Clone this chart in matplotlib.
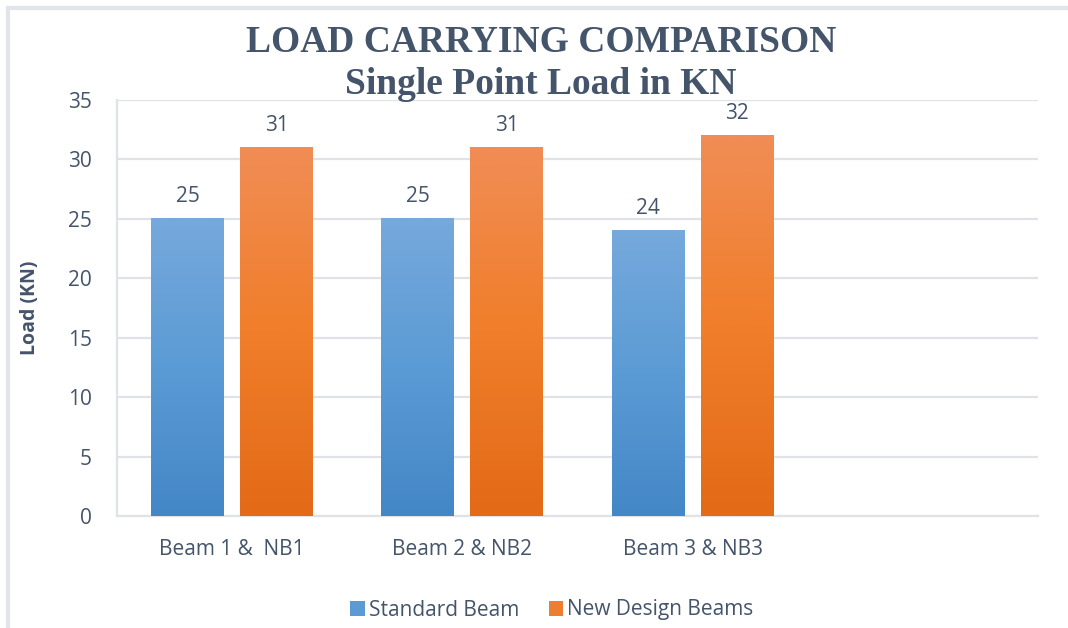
import numpy as np
import matplotlib.pyplot as plt
from matplotlib.colors import LinearSegmentedColormap
from matplotlib.patches import Patch
import matplotlib.lines as mlines

categories = ['Beam 1 &  NB1', 'Beam 2 & NB2', 'Beam 3 & NB3', '']
standard_beam = [25, 25, 24]
new_design = [31, 31, 32]
series_names = ['Standard Beam', 'New Design Beams']

txt = '#44546A'
grid_c = '#DFE3E8'

plt.rcParams['font.family'] = ['Open Sans', 'DejaVu Sans']

fig = plt.figure(figsize=(10.68, 6.28), dpi=100)
ax = fig.add_axes([117 / 1068, 1 - 516 / 628, (1038 - 117) / 1068, (516 - 100) / 628])

blue_cm = LinearSegmentedColormap.from_list('b', ['#4487C7', '#5B9BD5', '#76A9DC'])
orange_cm = LinearSegmentedColormap.from_list('o', ['#E36A17', '#F07E2A', '#F08D55'])

width = 0.317
offset = 0.193
x = np.arange(len(standard_beam))

grad = np.linspace(0, 1, 256).reshape(-1, 1)
for vals, cm, sign in [(standard_beam, blue_cm, -1), (new_design, orange_cm, 1)]:
    bars = ax.bar(x + sign * offset, vals, width, color='none', zorder=3)
    for b, v in zip(bars, vals):
        x0 = b.get_x()
        ax.imshow(grad, cmap=cm, origin='lower', aspect='auto',
                  extent=(x0, x0 + width, 0, v), zorder=3)
        ax.text(b.get_x() + width / 2, v + 1.0, str(v), ha='center', va='bottom',
                fontsize=15, color=txt)

ax.set_xlim(-0.5, len(categories) - 0.5)
ax.set_ylim(0, 35)
ax.set_yticks(range(0, 36, 5))
ax.set_xticks(range(len(categories)))
ax.set_xticklabels(categories)
ax.tick_params(axis='both', length=0, labelsize=15, colors=txt)
ax.tick_params(axis='y', pad=18)
ax.tick_params(axis='x', pad=16.5)
ax.grid(axis='y', color=grid_c, linewidth=1.6, zorder=0)
ax.set_axisbelow(True)
for s in ['top', 'right']:
    ax.spines[s].set_visible(False)
ax.spines['left'].set_color(grid_c)
ax.spines['left'].set_linewidth(1.6)
ax.spines['bottom'].set_color(grid_c)
ax.spines['bottom'].set_linewidth(1.6)

ax.set_ylabel('Load (KN)', fontsize=14, fontweight='bold', color=txt, labelpad=20)

fig.text(541 / 1068, 1 - 43 / 628, 'LOAD CARRYING COMPARISON', ha='center', va='center',
         fontsize=27, fontweight='bold', color=txt, family='Liberation Serif')
fig.text(541 / 1068, 1 - 84 / 628, 'Single Point Load in KN', ha='center', va='center',
         fontsize=27, fontweight='bold', color=txt, family='Liberation Serif')

handles = [Patch(facecolor='#5B9BD5'), Patch(facecolor='#ED7D31')]
fig.legend(handles, series_names, loc='center', bbox_to_anchor=(552 / 1068, 1 - 610 / 628),
           ncol=2, frameon=False, fontsize=15, labelcolor=txt, handlelength=0.7,
           handleheight=0.7, handletextpad=0.2, columnspacing=1.4)

# outer chart border (left and top visible)
fig.add_artist(mlines.Line2D([8 / 1068, 8 / 1068], [0, 1 - 8 / 628], color='#E1E4E9', linewidth=3,
                             transform=fig.transFigure))
fig.add_artist(mlines.Line2D([8 / 1068, 1], [1 - 8 / 628, 1 - 8 / 628], color='#E1E4E9', linewidth=3,
                             transform=fig.transFigure))

fig.savefig('out.png', dpi=100)
